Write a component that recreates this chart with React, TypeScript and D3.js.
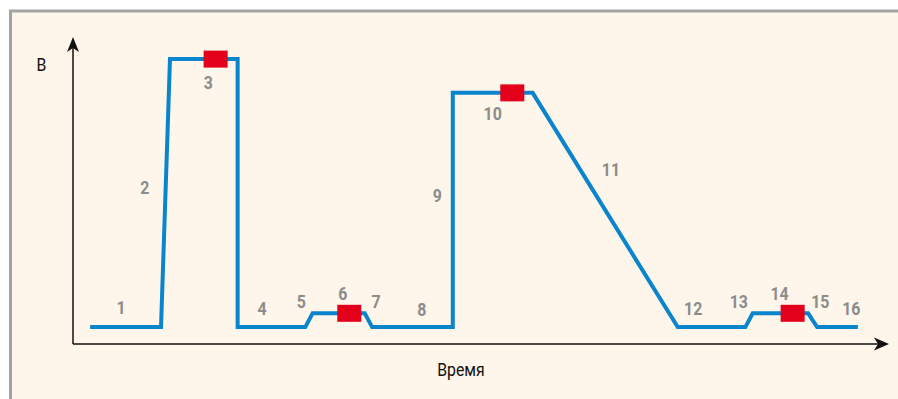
import React from "react";
import * as d3 from "d3";

// profile of the process: time (arbitrary units) vs voltage (arbitrary units)
const times = [2.1, 10.8, 11.9, 20.2, 20.2, 28.5, 29.4, 35.8, 36.7, 46.6, 46.6, 56.4, 74.2, 82.5, 83.4, 90.2, 91.3, 96.3];
const voltages = [0.55, 0.55, 9.28, 9.28, 0.55, 0.55, 1.0, 1.0, 0.55, 0.55, 8.18, 8.18, 0.55, 0.55, 1.0, 1.0, 0.55, 0.55];

// red markers on stages 3, 6, 10, 14
const markerTimes = [17.5, 33.9, 53.9, 88.3];
const markerVoltages = [9.28, 1.0, 8.18, 1.0];

// stage numbers
const stageLabels = ["1", "2", "3", "4", "5", "6", "7", "8", "9", "10", "11", "12", "13", "14", "15", "16"];
const stageTimes = [5.9, 8.8, 16.6, 23.2, 28.0, 33.1, 37.2, 42.8, 44.7, 51.5, 66.0, 76.1, 81.7, 86.7, 91.7, 95.5];
const stageVoltages = [1.2, 5.08, 8.5, 1.14, 1.37, 1.63, 1.37, 1.11, 4.82, 7.49, 5.67, 1.14, 1.37, 1.63, 1.37, 1.14];

const yTitle = "В";
const xTitle = "Время";

const width = 898;
const height = 399;
const origin = { x: 73, y: 344 };

const App = () => {
  const x = d3.scaleLinear().domain([0, 100]).range([origin.x, 888]);
  const y = d3.scaleLinear().domain([0, 10]).range([origin.y, 37]);

  const pts: [number, number][] = times.map((t, i) => [t, voltages[i]]);
  const line = d3
    .line<[number, number]>()
    .x((d) => x(d[0]))
    .y((d) => y(d[1]));

  const xEnd = x(100);
  const yEnd = y(10);
  const labelFont = "'Liberation Sans Narrow', 'Roboto', 'Arial Narrow', sans-serif";

  return (
    <svg
      width={width}
      height={height}
      style={{ position: "absolute", left: 0, top: 0, display: "block" }}
    >
      <rect x={0} y={0} width={width} height={height} fill="#ffffff" />
      <rect x={10.5} y={11} width={width} height={height} fill="#fef6ea" stroke="#a3a3a3" strokeWidth={3} />

      {/* axes */}
      <line x1={origin.x} y1={origin.y} x2={xEnd - 8} y2={origin.y} stroke="#111" strokeWidth={1.5} />
      <line x1={origin.x} y1={origin.y} x2={origin.x} y2={yEnd + 8} stroke="#111" strokeWidth={1.5} />
      <path
        d={`M${xEnd + 1},${origin.y} L${xEnd - 14},${origin.y - 6.5} L${xEnd - 10},${origin.y} L${xEnd - 14},${origin.y + 6.5} Z`}
        fill="#111"
      />
      <path
        d={`M${origin.x},${yEnd} L${origin.x - 6},${yEnd + 15} L${origin.x},${yEnd + 11} L${origin.x + 6},${yEnd + 15} Z`}
        fill="#111"
      />

      <path d={line(pts) || ""} fill="none" stroke="#0a84cc" strokeWidth={4} strokeLinejoin="miter" />

      {markerTimes.map((t, i) => (
        <rect
          key={i}
          x={x(t) - 12}
          y={y(markerVoltages[i]) - 8.5}
          width={24}
          height={17}
          fill="#e2001a"
        />
      ))}

      {stageLabels.map((s, i) => (
        <text
          key={s}
          transform={`translate(${x(stageTimes[i])},${y(stageVoltages[i])}) scale(0.86,1)`}
          textAnchor="middle"
          dominantBaseline="central"
          fontFamily={labelFont}
          fontWeight="bold"
          fontSize={18.5}
          fill="#8c8c8c"
        >
          {s}
        </text>
      ))}

      <text
        transform={`translate(41.5,65) scale(0.88,1)`}
        textAnchor="middle"
        dominantBaseline="central"
        fontFamily={labelFont}
        fontSize={18}
        fill="#111"
      >
        {yTitle}
      </text>
      <text
        transform={`translate(461,370) scale(0.88,1)`}
        textAnchor="middle"
        dominantBaseline="central"
        fontFamily={labelFont}
        fontSize={18}
        fill="#111"
      >
        {xTitle}
      </text>
    </svg>
  );
};

export default App;
